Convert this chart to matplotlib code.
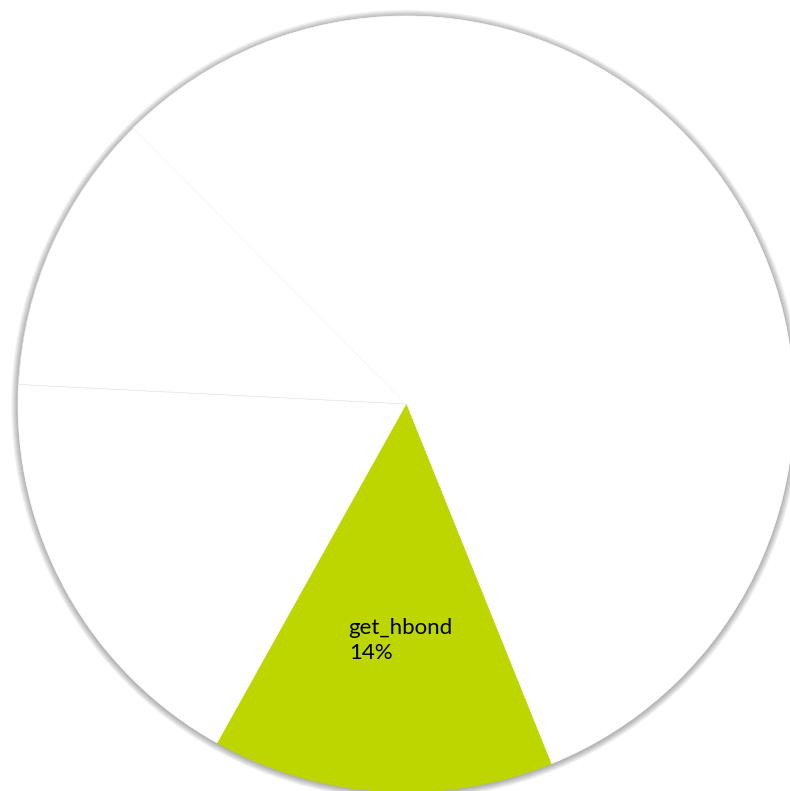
import numpy as np
import matplotlib
matplotlib.use("Agg")
import matplotlib.pyplot as plt

# Share of runtime per routine (percent)
routines = ["other", "get_hbond", "routine_c", "routine_d", "routine_e"]
shares = [43.9, 14.2, 17.7, 11.8, 12.4]
colors = ["#ffffff", "#bed600", "#ffffff", "#ffffff", "#ffffff"]
shown_label = "get_hbond"

fig = plt.figure(figsize=(7.90, 7.91), dpi=100)
ax = fig.add_axes([0, 0, 1, 1])

# soft grey shadow around the disc
n_rings = 14
for i in range(n_rings):
    r = 1.0 + 0.0013 * (i + 1)
    ax.add_patch(plt.Circle((0.0, -0.002), r, color="#000000", alpha=0.022,
                            lw=0, zorder=0))

wedges, _ = ax.pie(shares, colors=colors, startangle=90, counterclock=False,
                   radius=1.0, center=(0, 0), frame=True,
                   wedgeprops=dict(linewidth=0.5))
for i, (w, c) in enumerate(zip(wedges, colors)):
    w.set_zorder(2)
    # faint separators only around the fourth slice
    w.set_edgecolor("#e4e4e4" if i == 3 else c)

ax.set_xlim(-1.0464, 0.9897)
ax.set_ylim(-0.9974, 1.0412)
ax.set_aspect("equal")
ax.axis("off")

total = sum(shares)
for w, name, val in zip(wedges, routines, shares):
    if name != shown_label:
        continue
    mid = np.deg2rad((w.theta1 + w.theta2) / 2)
    rl = 0.61
    ax.annotate(f"{name}\n{val / total * 100:.0f}%",
                xy=(rl * np.cos(mid), rl * np.sin(mid)),
                xytext=(7, 0), textcoords="offset points",
                ha="center", va="center", multialignment="left",
                fontsize=16, family="Lato", color="#000000",
                linespacing=1.3, zorder=5)

fig.savefig("out.png", dpi=100)
